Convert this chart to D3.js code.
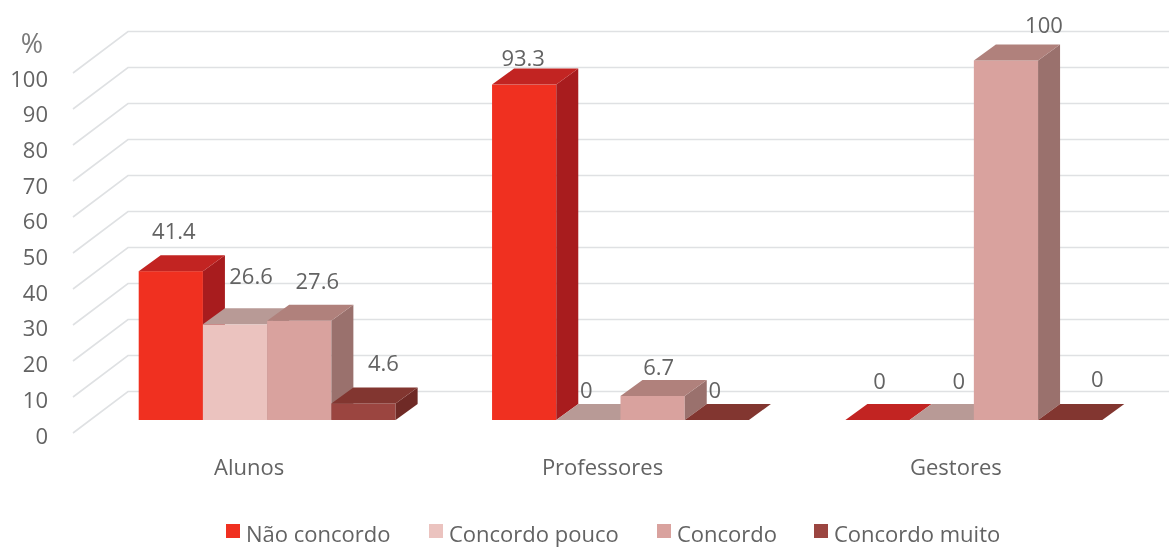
<!DOCTYPE html>
<html>
<head>
<meta charset="utf-8">
<script src="https://cdnjs.cloudflare.com/ajax/libs/d3/7.8.5/d3.min.js"></script>
<style>
  body { margin: 0; background: #fff; }
  svg { filter: blur(0.5px); }
  text { font-family: "Open Sans", sans-serif; fill: #636363; }
</style>
</head>
<body>
<svg id="chart" width="1169" height="548"></svg>
<script>
const categories = ["Alunos", "Professores", "Gestores"];
const seriesNames = ["Não concordo", "Concordo pouco", "Concordo", "Concordo muito"];
const naoConcordo = [41.4, 93.3, 0];
const concordoPouco = [26.6, 0, 0];
const concordo = [27.6, 6.7, 100];
const concordoMuito = [4.6, 0, 0];
const yTicks = [0, 10, 20, 30, 40, 50, 60, 70, 80, 90, 100];

const seriesValues = [naoConcordo, concordoPouco, concordo, concordoMuito];

// front, top and side faces for each series
const colors = [
  { front: "#f03020", top: "#c22422", side: "#a81c1e" },
  { front: "#ebc3bf", top: "#b89a96", side: "#a98a86" },
  { front: "#d9a29e", top: "#b0817c", side: "#9a716d" },
  { front: "#9b4540", top: "#823630", side: "#6f2a26" },
];

// labels were placed by hand in the original, offset from each bar's top centre
const labelNudge = [
  [[3, -40], [-1, -26], [2, -39]],
  [[16, -48], [-2, -30], [17, -39]],
  [[18, -39], [6, -29], [38, -35]],
  [[20, -40], [-2, -30], [27, -41]],
];

const svg = d3.select("#chart");
const width = +svg.attr("width");

// wall offset of the 3d box, and bar depth
const wallX = 55;
const wallY = -41.5;
const depthX = 22;
const depthY = -16;

const yWall = d3.scaleLinear().domain([0, 100]).range([433, 73]);
const yLabel = d3.scaleLinear().domain([0, 100]).range([436, 79]);
const yBar = d3.scaleLinear().domain([0, 100]).range([420, 60.5]);
const x0 = d3.scaleBand().domain(categories).range([91, 1150]).paddingInner(96.5 / 353.5).paddingOuter(0.135);
const x1 = d3.scaleBand().domain(seriesNames).range([0, x0.bandwidth()]);

// gridlines
svg
  .append("g")
  .selectAll("path")
  .data(yTicks)
  .enter()
  .append("path")
  .attr("fill", "none")
  .attr("stroke", "#dfe1e3")
  .attr("stroke-width", 1.6)
  .attr("d", (d) => {
    const y = yWall(d);
    return `M73,${y} L${73 + wallX},${y + wallY} L${width},${y + wallY}`;
  });

// value axis
const yAxis = svg
  .append("g")
  .attr("transform", "translate(48, 0)")
  .call(d3.axisLeft(yLabel).tickValues(yTicks).tickSize(0).tickPadding(0));
yAxis.select(".domain").remove();
yAxis.selectAll("text").style("font-size", "22px").style("font-family", null);

svg
  .append("text")
  .attr("x", 32)
  .attr("y", 53)
  .attr("text-anchor", "middle")
  .style("font-size", "27px")
  .style("fill", "#7a7a7a")
  .text("%");

// category axis
const xAxis = svg
  .append("g")
  .attr("transform", "translate(-18, 459)")
  .call(d3.axisBottom(x0).tickSize(0).tickPadding(0));
xAxis.select(".domain").remove();
xAxis.selectAll("text").style("font-size", "22px").style("font-family", null);

// bars, left to right so each one covers the side of the previous
categories.forEach((cat, c) => {
  seriesNames.forEach((name, s) => {
    const v = seriesValues[s][c];
    const left = x0(cat) + x1(name);
    const right = left + x1.bandwidth();
    const top = yBar(v);
    const base = yBar(0);
    const g = svg.append("g");
    if (v > 0) {
      g.append("rect")
        .attr("x", left)
        .attr("y", top)
        .attr("width", right - left)
        .attr("height", base - top)
        .attr("fill", colors[s].front);
      g.append("polygon")
        .attr("fill", colors[s].side)
        .attr("points", [
          [right, top],
          [right + depthX, top + depthY],
          [right + depthX, base + depthY],
          [right, base],
        ].join(" "));
    }
    g.append("polygon")
      .attr("fill", colors[s].top)
      .attr("points", [
        [left, top],
        [left + depthX, top + depthY],
        [right + depthX, top + depthY],
        [right, top],
      ].join(" "));
  });
});

// data labels on top of everything
categories.forEach((cat, c) => {
  seriesNames.forEach((name, s) => {
    const v = seriesValues[s][c];
    const [dx, dy] = labelNudge[s][c];
    svg
      .append("text")
      .attr("x", x0(cat) + x1(name) + x1.bandwidth() / 2 + dx)
      .attr("y", yBar(v) + dy)
      .attr("text-anchor", "middle")
      .attr("dy", "0.35em")
      .style("font-size", "22px")
      .text(v);
  });
});

// legend
const legendSwatchX = [226, 429, 657, 814];
const legend = svg
  .append("g")
  .selectAll("g")
  .data(seriesNames)
  .enter()
  .append("g")
  .attr("transform", (d, i) => `translate(${legendSwatchX[i]}, 524)`);
legend
  .append("rect")
  .attr("width", 14)
  .attr("height", 14)
  .attr("fill", (d, i) => colors[i].front);
legend
  .append("text")
  .attr("x", 20)
  .attr("y", 18)
  .style("font-size", "22px")
  .text((d) => d);
</script>
</body>
</html>
